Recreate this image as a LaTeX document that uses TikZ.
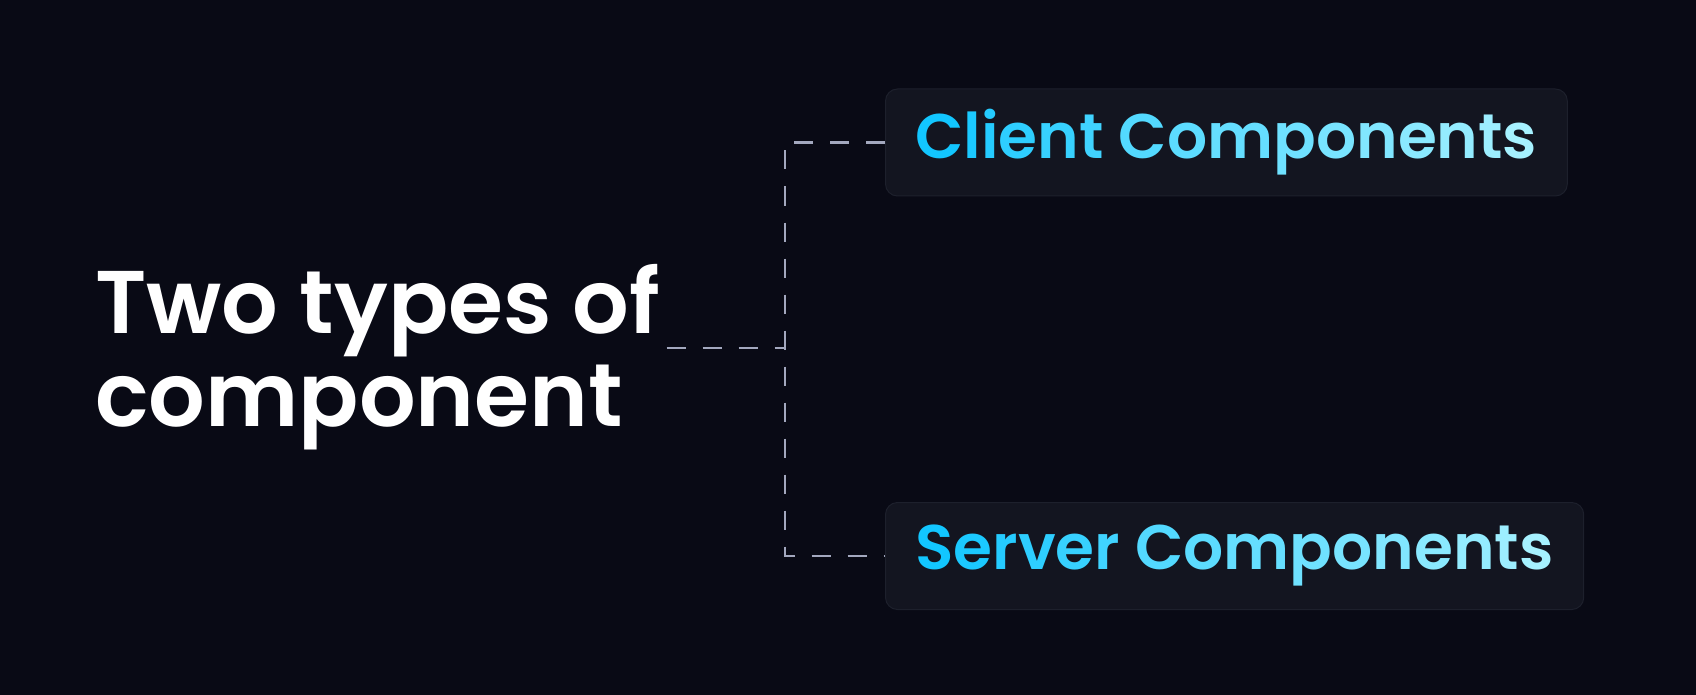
\documentclass[tikz,border=0pt]{standalone}
\usepackage{fontspec}
\usepackage{xcolor}
\usetikzlibrary{positioning,calc}
\setmainfont{Poppins}
\newfontfamily\popsemi{Poppins SemiBold}

\definecolor{bgnavy}{HTML}{090A15}
\definecolor{boxfill}{HTML}{131520}
\definecolor{boxline}{HTML}{1D202C}
\definecolor{dashgray}{HTML}{A3A8BE}
\definecolor{gradL}{HTML}{12C6FF}
\definecolor{gradR}{HTML}{A6F1FF}

% letter by letter colour ramp
\makeatletter
\newcount\gr@n
\newcommand\gradtext[2]{%
  \gr@n=\z@
  \@tfor\gr@ch:=#2\do{%
    \edef\gr@pct{\the\numexpr100-\gr@n*100/#1\relax}%
    {\color{gradL!\gr@pct!gradR}\gr@ch}%
    \advance\gr@n by 1\relax}}
\makeatother

\tikzset{
  compbox/.style={draw=boxline, fill=boxfill, rounded corners=12pt, line width=1pt,
    inner xsep=30pt, inner ysep=0pt, minimum height=107pt,
    font=\popsemi\fontsize{63}{72}\selectfont},
  dashline/.style={dashgray, line width=2.3pt, dash pattern=on 19pt off 17pt}
}

\begin{document}
\begin{tikzpicture}[x=1pt,y=-1pt]
    \fill[bgnavy] (0,0) rectangle (1696,695);

    \node[anchor=west, align=left, text=white, inner sep=0pt,
      font=\popsemi\fontsize{89}{93}\selectfont] (title) at (95,357) {Two types of\\component};

    \node[compbox, anchor=west] (client) at (885,142.5) {\gradtext{16}{Client~Components}};
    \node[compbox, anchor=west] (server) at (885,556) {\gradtext{16}{Server~Components}};

    \coordinate (junction) at (785,348);
    \draw[dashline] (client.west) -| (junction) |- (server.west);
    \draw[dashline] ([xshift=6pt]title.east |- junction) -- (junction);
\end{tikzpicture}
\end{document}
